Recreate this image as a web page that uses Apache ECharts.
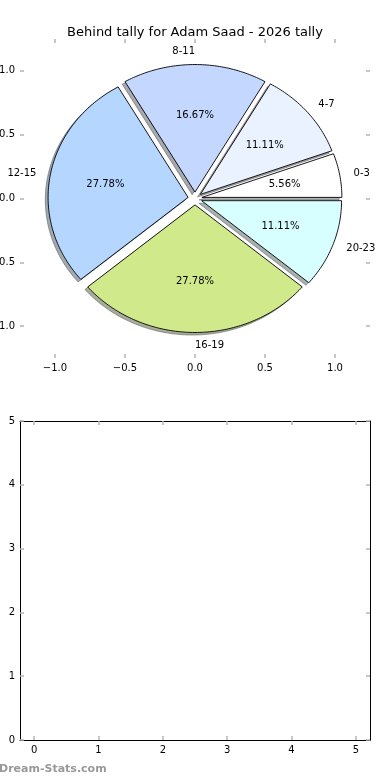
<!DOCTYPE html>
<html><head><meta charset="utf-8">
<script src="https://cdn.jsdelivr.net/npm/echarts@6/dist/echarts.min.js"></script>
<style>html,body{margin:0;padding:0;background:#fff}#c{width:390px;height:780px}</style>
</head><body><div id="c"></div>
<script>
const title = 'Behind tally for Adam Saad - 2026 tally';
const categories = ['0-3', '4-7', '8-11', '12-15', '16-19', '20-23'];
const tally = [1, 2, 3, 5, 5, 2];
const sliceColors = ['#ffffff', '#eaf1ff', '#c4d8ff', '#b4d6ff', '#d0e98a', '#d8ffff'];
const pieTicks = [-1, -0.5, 0, 0.5, 1];
const emptyXTicks = [0, 1, 2, 3, 4, 5];
const footer = 'Dream-Stats.com';

const FONT = 'DejaVu Sans';
const total = tally.reduce((a, b) => a + b, 0);
const EXPLODE = 0.05, LABEL_D = 1.1, PCT_D = 0.6, SHADOW_OFF = -0.02;
const starts = [];
let acc = 0;
tally.forEach(v => { starts.push(acc); acc += v; });

function wedgeGeom(i) {
  const t1 = starts[i] / total * 2 * Math.PI;
  const t2 = (starts[i] + tally[i]) / total * 2 * Math.PI;
  const tm = (t1 + t2) / 2;
  return { t1, t2, tm, cx: EXPLODE * Math.cos(tm), cy: EXPLODE * Math.sin(tm) };
}
function shadowColor(hex) {
  const n = parseInt(hex.slice(1), 16);
  const r = Math.round(((n >> 16) & 255) * 0.3), g = Math.round(((n >> 8) & 255) * 0.3), b = Math.round((n & 255) * 0.3);
  return 'rgb(' + r + ',' + g + ',' + b + ')';
}
function wedgePoints(api, w, ox, oy) {
  const pts = [api.coord([w.cx + ox, w.cy + oy])];
  const n = Math.max(10, Math.ceil((w.t2 - w.t1) / (Math.PI / 180)));
  for (let k = 0; k <= n; k++) {
    const t = w.t1 + (w.t2 - w.t1) * k / n;
    pts.push(api.coord([w.cx + ox + Math.cos(t), w.cy + oy + Math.sin(t)]));
  }
  return pts;
}
function renderShadow(params, api) {
  const i = params.dataIndex;
  const w = wedgeGeom(i);
  const c = shadowColor(sliceColors[i]);
  return { type: 'polygon', shape: { points: wedgePoints(api, w, SHADOW_OFF, SHADOW_OFF) },
    style: { fill: c, stroke: c, lineWidth: 1, opacity: 0.45 } };
}
function renderWedge(params, api) {
  const i = params.dataIndex;
  const w = wedgeGeom(i);
  const lx = w.cx + LABEL_D * Math.cos(w.tm), ly = w.cy + LABEL_D * Math.sin(w.tm);
  let align;
  if (lx > 1e-6) align = 'left';
  else if (lx < -1e-6) align = 'right';
  else align = ly > 0 ? 'right' : 'left';
  const lp = api.coord([lx, ly]);
  const pp = api.coord([w.cx + PCT_D * Math.cos(w.tm), w.cy + PCT_D * Math.sin(w.tm)]);
  return { type: 'group', children: [
    { type: 'polygon', shape: { points: wedgePoints(api, w, 0, 0) },
      style: { fill: sliceColors[i], stroke: '#000', lineWidth: 0.9 } },
    { type: 'text', x: lp[0], y: lp[1], style: { text: categories[i], fill: '#000', font: '10px "' + FONT + '"', align: align, verticalAlign: 'middle' } },
    { type: 'text', x: pp[0], y: pp[1], style: { text: (tally[i] / total * 100).toFixed(2) + '%', fill: '#000', font: '10px "' + FONT + '"', align: 'center', verticalAlign: 'middle' } }
  ] };
}

const fmt1 = v => (v < 0 ? '\u2212' : '') + Math.abs(v).toFixed(1);
const labelBase = { fontSize: 10, color: '#000', fontFamily: FONT };

function valAxis(grid, pos, min, max, ticks, showLabel, formatter, showLine) {
  return {
    type: 'value', gridIndex: grid, position: pos, min: min, max: max,
    axisLine: { show: !!showLine, onZero: false, lineStyle: { color: '#000', width: 1 } },
    splitLine: { show: false },
    axisTick: { show: true, inside: true, length: 4, customValues: ticks, lineStyle: { color: '#b4b4b4', width: 1.5 } },
    axisLabel: Object.assign({ show: showLabel, customValues: ticks, formatter: formatter, margin: 5 }, labelBase)
  };
}

const chart = echarts.init(document.getElementById('c'), null, { renderer: 'canvas' });
chart.setOption({
  animation: false,
  backgroundColor: '#fff',
  title: { text: title, left: 'center', top: 21, textStyle: { fontSize: 13, fontWeight: 'normal', color: '#000', fontFamily: FONT } },
  grid: [
    { left: 20, top: 39, width: 350, height: 319, show: false, containLabel: false, outerBoundsMode: 'none' },
    { left: 20, top: 421, width: 350, height: 319, show: false, containLabel: false, outerBoundsMode: 'none' }
  ],
  xAxis: [
    valAxis(0, 'bottom', -1.25, 1.25, pieTicks, true, fmt1, false),
    valAxis(0, 'top', -1.25, 1.25, pieTicks, false, fmt1, false),
    valAxis(1, 'bottom', -0.22, 5.22, emptyXTicks, true, v => String(v), true),
    valAxis(1, 'top', -0.22, 5.22, emptyXTicks, false, v => String(v), true)
  ],
  yAxis: [
    valAxis(0, 'left', -1.25, 1.25, pieTicks, true, fmt1, false),
    valAxis(0, 'right', -1.25, 1.25, pieTicks, false, fmt1, false),
    valAxis(1, 'left', 0, 5, emptyXTicks, true, v => String(v), true),
    valAxis(1, 'right', 0, 5, emptyXTicks, false, v => String(v), true)
  ],
  series: [
    { type: 'custom', xAxisIndex: 0, yAxisIndex: 0, z: 1, renderItem: renderShadow,
      data: tally.map((v, i) => [i, v]), encode: { x: -1, y: -1 }, silent: true },
    { type: 'custom', xAxisIndex: 0, yAxisIndex: 0, z: 2, renderItem: renderWedge,
      data: tally.map((v, i) => [i, v]), encode: { x: -1, y: -1 }, silent: true }
  ],
  graphic: [
    { type: 'text', left: -1, top: 764, style: { text: footer, fill: '#999999', font: 'bold 11px "' + FONT + '"' } }
  ]
});
</script></body></html>
